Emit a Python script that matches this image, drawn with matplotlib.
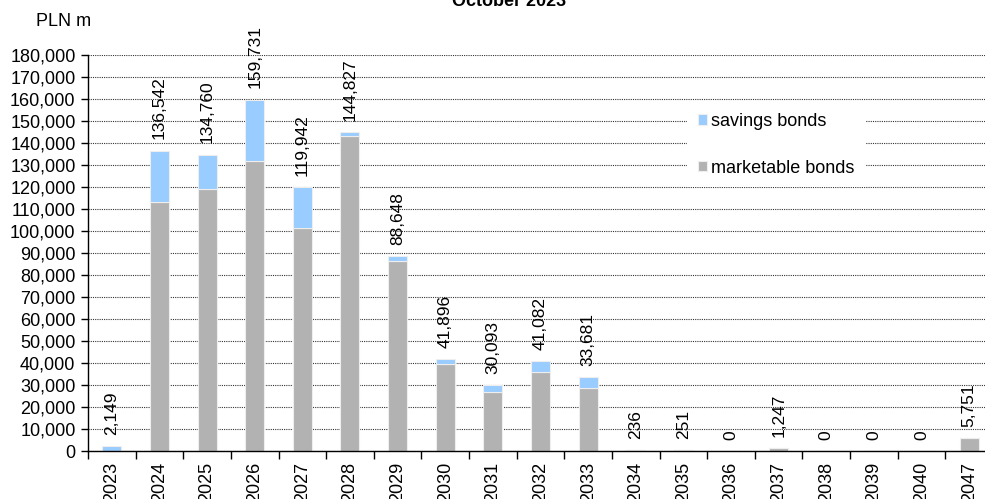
import matplotlib
matplotlib.use("Agg")
import matplotlib.pyplot as plt

years = ["2023", "2024", "2025", "2026", "2027", "2028", "2029", "2030", "2031", "2032",
         "2033", "2034", "2035", "2036", "2037", "2038", "2039", "2040", "2047"]
totals = [2149, 136542, 134760, 159731, 119942, 144827, 88648, 41896, 30093, 41082,
          33681, 236, 251, 0, 1247, 0, 0, 0, 5751]
marketable = [0, 113200, 118900, 131700, 101500, 143200, 86500, 39500, 27000, 35900,
              28600, 236, 251, 0, 1247, 0, 0, 0, 5751]
savings = [2149, 23342, 15860, 28031, 18442, 1627, 2148, 2396, 3093, 5182,
           5081, 0, 0, 0, 0, 0, 0, 0, 0]
yticks = list(range(0, 180001, 10000))

plt.rcParams['font.family'] = ['Liberation Sans', 'DejaVu Sans']

fig = plt.figure(figsize=(9.85, 4.99), dpi=100)
ax = fig.add_axes([88 / 985, 48 / 499, 905 / 985, 396 / 499])

x = list(range(len(years)))
ax.bar(x, marketable, width=0.4, color="#B2B2B2", edgecolor="#EEEEEE", linewidth=0.8,
       label="marketable bonds", zorder=2)
ax.bar(x, savings, width=0.4, bottom=marketable, color="#99CCFF", edgecolor="#EEEEEE",
       linewidth=0.8, label="savings bonds", zorder=2)

for xi, tot in zip(x, totals):
    ax.annotate(f"{tot:,}", (xi, tot), xytext=(0, 8), textcoords="offset points",
                rotation=90, ha="center", va="bottom", fontsize=12.5)

ax.set_xlim(-0.5, len(years) - 0.5)
ax.set_ylim(0, 180000)
ax.set_yticks(yticks)
ax.set_yticklabels([f"{v:,}" for v in yticks], fontsize=13)
ax.set_xticks(x)
ax.set_xticklabels(years, rotation=90, fontsize=13)
ax.tick_params(axis="x", length=0, pad=8)
ax.set_xticks([i - 0.5 for i in range(len(years) + 1)], minor=True)
ax.tick_params(axis="x", which="minor", length=6, width=1, direction="out")
ax.tick_params(axis="y", length=5, width=1, direction="out", pad=4)

ax.grid(axis="y", linestyle=(0, (1, 1)), color="#333333", linewidth=0.8, zorder=0)
ax.set_axisbelow(True)
for s in ["top", "right"]:
    ax.spines[s].set_visible(False)
ax.spines["left"].set_linewidth(1)
ax.spines["bottom"].set_linewidth(1)

h, l = ax.get_legend_handles_labels()
leg = ax.legend(h[::-1], l[::-1], loc="upper left", bbox_to_anchor=(687 / 985, 1 - 102 / 499),
                bbox_transform=fig.transFigure, borderaxespad=0, fontsize=13,
                handlelength=0.5, handleheight=0.5, handletextpad=0.25, labelspacing=1.65,
                borderpad=0.6, frameon=True, fancybox=False)
leg.get_frame().set_facecolor("white")
leg.get_frame().set_edgecolor("none")
leg.get_frame().set_alpha(1)
leg.set_zorder(5)

fig.text(509 / 985, 1 - 5.5 / 499, "October 2023", ha="center", va="baseline",
         fontsize=13, fontweight="bold")
fig.text(36 / 985, 1 - 26 / 499, "PLN m", ha="left", va="baseline", fontsize=13)

fig.savefig("out.png", dpi=100)
